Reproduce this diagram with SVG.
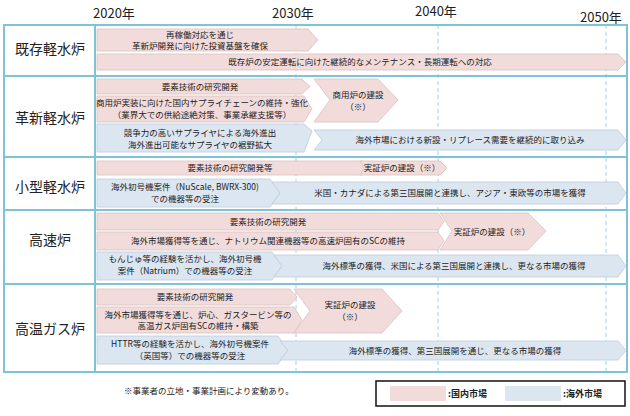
<svg xmlns="http://www.w3.org/2000/svg" width="630" height="416" viewBox="0 0 630 416">
<style>
text{font-family:"Noto Sans CJK JP","Noto Sans",sans-serif;fill:#222}
.y{font-size:13px}
.l{font-size:14px;text-anchor:middle}
.t{font-size:8.5px;text-anchor:middle}
.p{fill:#f2dcdb;stroke:#dcc0c0;stroke-width:0.8}
.b{fill:#dce6f1;stroke:#bccbdc;stroke-width:0.8}
.g{stroke:#7fc4d6;stroke-width:2;fill:none}
.d{stroke:#9fd4e2;stroke-width:1;stroke-dasharray:4 3}
</style>
<rect width="630" height="416" fill="#fff"/>
<g id="axis">
<text class="y" x="93" y="18">2020年</text>
<text class="y" x="272" y="18">2030年</text>
<text class="y" x="415" y="16">2040年</text>
<text class="y" x="580" y="22">2050年</text>
<line class="d" x1="296" y1="25" x2="296" y2="372"/>
<line class="d" x1="438" y1="25" x2="438" y2="372"/>
<line class="d" x1="606" y1="25" x2="606" y2="372"/>
<rect class="g" x="4" y="25" width="623" height="347"/>
<line class="g" x1="95" y1="25" x2="95" y2="372"/>
<line class="g" x1="4" y1="76" x2="627" y2="76"/>
<line class="g" x1="4" y1="157" x2="627" y2="157"/>
<line class="g" x1="4" y1="210" x2="627" y2="210"/>
<line class="g" x1="4" y1="284" x2="627" y2="284"/>
</g>
<g id="labels">
<text class="l" x="50" y="54">既存軽水炉</text>
<text class="l" x="50" y="123">革新軽水炉</text>
<text class="l" x="50" y="192">小型軽水炉</text>
<text class="l" x="50" y="245">高速炉</text>
<text class="l" x="50" y="334">高温ガス炉</text>
</g>
<g id="connectors">
<polygon class="p" points="97,29 308,29 318,40 308,51 97,51"/>
<text class="t" x="200" y="38">再稼働対応を通じ</text><text class="t" x="200" y="49">革新炉開発に向けた投資基盤を確保</text>
<polygon class="p" points="97,54 618,54 626,62 618,70 97,70"/>
<text class="t" x="360" y="65">既存炉の安定運転に向けた継続的なメンテナンス・長期運転への対応</text>

<polygon class="p" points="97,79 302,79 310,86.5 302,94 97,94"/>
<text class="t" x="200" y="90">要素技術の研究開発</text>
<polygon class="p" points="97,96 304,96 312,109 304,122 97,122"/>
<text class="t" x="202" y="106">商用炉実装に向けた国内サプライチェーンの維持・強化</text><text class="t" x="202" y="118">（業界大での供給途絶対策、事業承継支援等）</text>
<polygon class="p" points="314,79 378,79 398,100 378,122 314,122 330,100"/>
<text class="t" x="358" y="98">商用炉の建設</text><text class="t" x="358" y="110">（※）</text>
<polygon class="b" points="97,124 304,124 312,131 304,152 97,152"/>
<text class="t" x="200" y="136">競争力の高いサプライヤによる海外進出</text><text class="t" x="200" y="148">海外進出可能なサプライヤの裾野拡大</text>
<polygon class="b" points="314,130 618,130 626,140 618,150 314,150 322,140"/>
<text class="t" x="470" y="143">海外市場における新設・リプレース需要を継続的に取り込み</text>

<polygon class="p" points="97,161 362,161 366,168 362,175 97,175"/>
<text class="t" x="230" y="171">要素技術の研究開発等</text>
<polygon class="p" points="360,161 440,161 447,168 440,175 360,175 364,168"/>
<text class="t" x="402" y="171">実証炉の建設（※）</text>
<polygon class="b" points="97,179 270,179 280,193 270,207 97,207"/>
<text class="t" x="185" y="190">海外初号機案件（NuScale, BWRX-300)</text><text class="t" x="185" y="202">での機器等の受注</text>
<polygon class="b" points="272,182 618,182 626,193 618,204 272,204 280,193"/>
<text class="t" x="450" y="196">米国・カナダによる第三国展開と連携し、アジア・東欧等の市場を獲得</text>

<polygon class="p" points="97,213 438,213 444,221.5 438,230 97,230"/>
<text class="t" x="268" y="225">要素技術の研究開発</text>
<polygon class="p" points="97,232 438,232 444,241 438,250 97,250"/>
<text class="t" x="268" y="244">海外市場獲得等を通じ、ナトリウム関連機器等の高速炉固有のSCの維持</text>
<polygon class="p" points="440,213 528,213 546,231 528,250 440,250 452,231"/>
<text class="t" x="492" y="235">実証炉の建設（※）</text>
<polygon class="b" points="97,252 272,252 282,266 272,280 97,280"/>
<text class="t" x="185" y="262">もんじゅ等の経験を活かし、海外初号機</text><text class="t" x="185" y="274">案件（Natrium）での機器等の受注</text>
<polygon class="b" points="274,255 618,255 626,266 618,277 274,277 282,266"/>
<text class="t" x="454" y="269">海外標準の獲得、米国による第三国展開と連携し、更なる市場の獲得</text>

<polygon class="p" points="97,289 290,289 297,297 290,305 97,305"/>
<text class="t" x="195" y="300">要素技術の研究開発</text>
<polygon class="p" points="97,307 294,307 302,320 294,333 97,333"/>
<text class="t" x="198" y="318">海外市場獲得等を通じ、炉心、ガスタービン等の</text><text class="t" x="198" y="329">高温ガス炉固有SCの維持・構築</text>
<polygon class="p" points="294,289 382,289 402,311 382,333 294,333 310,311"/>
<text class="t" x="350" y="308">実証炉の建設</text><text class="t" x="350" y="320">（※）</text>
<polygon class="b" points="97,336 278,336 288,350 278,364 97,364"/>
<text class="t" x="190" y="347">HTTR等の経験を活かし、海外初号機案件</text><text class="t" x="190" y="359">（英国等）での機器等の受注</text>
<polygon class="b" points="280,341 618,341 626,350.5 618,360 280,360 288,350.5"/>
<text class="t" x="455" y="354">海外標準の獲得、第三国展開を通じ、更なる市場の獲得</text>
</g>
<g id="legend">
<text x="124" y="394" style="font-size:8.5px">※事業者の立地・事業計画により変動あり。</text>
<rect x="376" y="381" width="249" height="25" fill="#fff" stroke="#111" stroke-width="1.5"/>
<rect x="390" y="386" width="56" height="15" fill="#f2dcdb"/>
<rect x="505" y="386" width="56" height="15" fill="#dce6f1"/>
<text x="448" y="397" style="font-size:9px;font-weight:bold">:国内市場</text>
<text x="563" y="397" style="font-size:9px;font-weight:bold">:海外市場</text>
</g>
</svg>
